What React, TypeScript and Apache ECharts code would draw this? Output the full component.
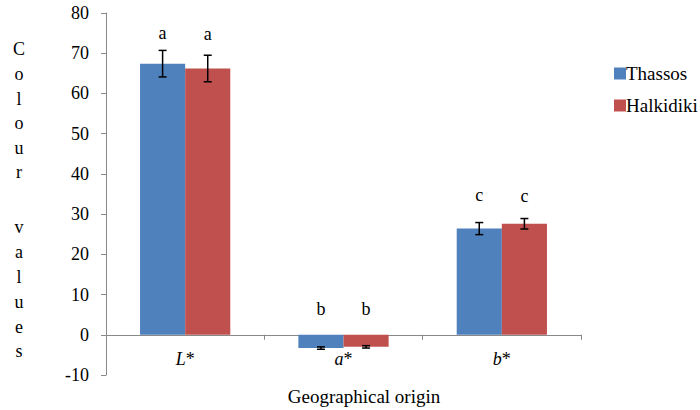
import React, { useEffect, useRef } from "react";
import * as echarts from "echarts";

const categories = ["L", "a", "b"];
const seriesNames = ["Thassos", "Halkidiki"];
const thassos = [67.4, -3.3, 26.4];
const halkidiki = [66.2, -3.0, 27.6];
const thassosErr = [3.3, 0.3, 1.5];
const halkidikiErr = [3.3, 0.3, 1.3];
const thassosLetters = ["a", "b", "c"];
const halkidikiLetters = ["a", "b", "c"];
const thassosLetterY = [75.1, 6.5, 34.8];
const halkidikiLetterY = [74.9, 6.5, 34.6];
const yTicks = { min: -10, max: 80, interval: 10 };
const colors = ["#4F81BD", "#C0504D"];

const FONT = "Times New Roman";
const CATGAP = 0.43;

function makeErrSeries(idx: number, vals: number[], errs: number[], letters: string[], ly: number[]) {
  const data = vals.map((v, i) => [i, v, v - errs[i], v + errs[i], ly[i], letters[i]]);
  return {
    type: "custom",
    name: seriesNames[idx] + " err",
    z: 5,
    silent: true,
    data,
    encode: { x: 0, y: [1, 2, 3, 4] },
    renderItem: (params: any, api: any) => {
      const cat = api.value(0);
      const band = api.size([1, 0])[0];
      const bw = (band * (1 - CATGAP)) / 2;
      const off = idx === 0 ? -bw / 2 : bw / 2;
      const lo = api.coord([cat, api.value(2)]);
      const hi = api.coord([cat, api.value(3)]);
      const lp = api.coord([cat, api.value(4)]);
      const x = lo[0] + off;
      const cap = 4;
      const st = { stroke: "#000", lineWidth: 1.5 };
      return {
        type: "group",
        children: [
          { type: "line", shape: { x1: x, y1: lo[1], x2: x, y2: hi[1] }, style: st },
          { type: "line", shape: { x1: x - cap, y1: lo[1], x2: x + cap, y2: lo[1] }, style: st },
          { type: "line", shape: { x1: x - cap, y1: hi[1], x2: x + cap, y2: hi[1] }, style: st },
          {
            type: "text",
            x: x,
            y: lp[1],
            style: {
              text: String(api.value(5)),
              fill: "#000",
              fontSize: 18,
              fontFamily: FONT,
              align: "center",
              verticalAlign: "middle",
            },
          },
        ],
      };
    },
  };
}

export default function App() {
  const ref = useRef<HTMLDivElement>(null);
  useEffect(() => {
    document.body.style.margin = "0";
    if (!ref.current) return;
    const chart = echarts.init(ref.current, undefined, { renderer: "svg" });
    chart.setOption({
      animation: false,
      backgroundColor: "#fff",
      textStyle: { fontFamily: FONT, color: "#000" },
      grid: { left: 106, right: 119, top: 13, bottom: 35, outerBoundsMode: "none", containLabel: false },
      legend: {
        orient: "vertical",
        left: 609,
        top: 59,
        itemWidth: 12,
        itemHeight: 12,
        itemGap: 13,
        icon: "rect",
        data: seriesNames,
        textStyle: { fontFamily: FONT, fontSize: 19, color: "#000", padding: [0, 0, 0, -5] },
      },
      xAxis: {
        type: "category",
        data: categories,
        axisLine: { onZero: true, lineStyle: { color: "#898989", width: 1 } },
        axisTick: { show: true, length: 5, lineStyle: { color: "#898989" } },
        axisLabel: {
          margin: -25,
          formatter: (v: string) => `{i|${v}}{n|*}`,
          rich: {
            i: { fontFamily: FONT, fontStyle: "italic", fontSize: 18, color: "#000" },
            n: { fontFamily: FONT, fontSize: 18, color: "#000" },
          },
        },
      },
      yAxis: {
        type: "value",
        min: yTicks.min,
        max: yTicks.max,
        interval: yTicks.interval,
        splitLine: { show: false },
        axisLine: { show: true, lineStyle: { color: "#898989", width: 1 } },
        axisTick: { show: true, length: 5, lineStyle: { color: "#898989" } },
        axisLabel: { margin: 17, fontFamily: FONT, fontSize: 18, color: "#000" },
      },
      graphic: [
        {
          type: "text",
          x: 19,
          y: 37,
          style: {
            text: "C\no\nl\no\nu\nr",
            fontFamily: FONT,
            fontSize: 18,
            lineHeight: 24.6,
            align: "center",
            verticalAlign: "top",
            fill: "#000",
          },
        },
        {
          type: "text",
          x: 19,
          y: 215,
          style: {
            text: "v\na\nl\nu\ne\ns",
            fontFamily: FONT,
            fontSize: 18,
            lineHeight: 24.8,
            align: "center",
            verticalAlign: "top",
            fill: "#000",
          },
        },
        {
          type: "text",
          x: 364,
          y: 396,
          style: {
            text: "Geographical origin",
            fontFamily: FONT,
            fontSize: 19,
            align: "center",
            verticalAlign: "middle",
            fill: "#000",
          },
        },
      ],
      series: [
        {
          type: "bar",
          name: seriesNames[0],
          data: thassos,
          barGap: "0%",
          barCategoryGap: CATGAP * 100 + "%",
          itemStyle: { color: colors[0] },
        },
        {
          type: "bar",
          name: seriesNames[1],
          data: halkidiki,
          barGap: "0%",
          barCategoryGap: CATGAP * 100 + "%",
          itemStyle: { color: colors[1] },
        },
        makeErrSeries(0, thassos, thassosErr, thassosLetters, thassosLetterY),
        makeErrSeries(1, halkidiki, halkidikiErr, halkidikiLetters, halkidikiLetterY),
      ],
    });
    return () => chart.dispose();
  }, []);
  return <div ref={ref} style={{ width: 700, height: 410 }} />;
}
